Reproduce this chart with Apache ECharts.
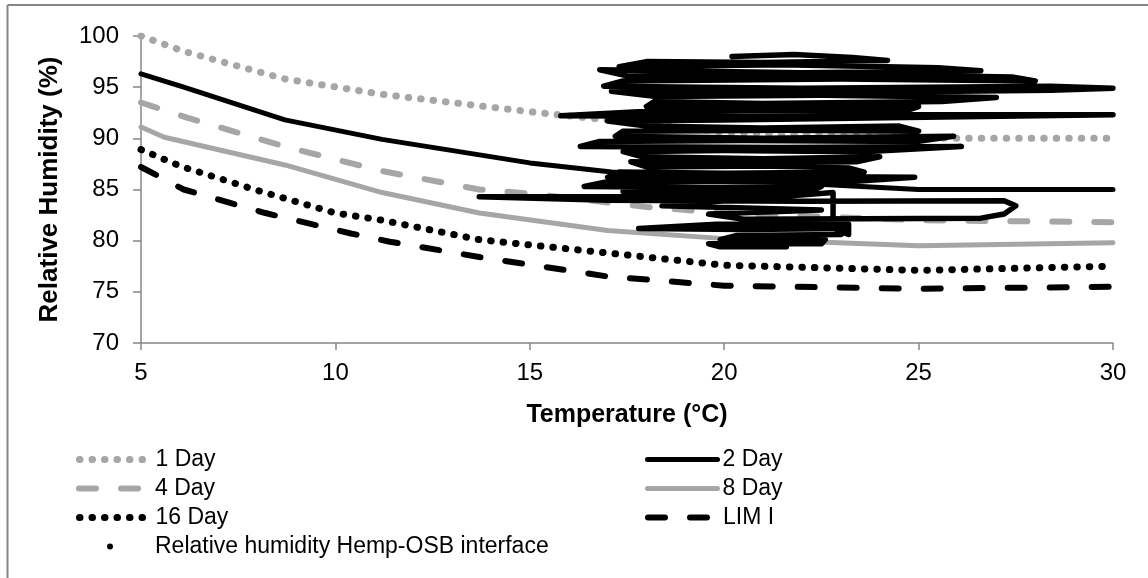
<!DOCTYPE html>
<html>
<head>
<meta charset="utf-8">
<script src="https://cdn.jsdelivr.net/npm/echarts@6/dist/echarts.min.js"></script>
<style>
  html, body { margin: 0; padding: 0; background: #fff; }
  #chart { width: 1148px; height: 578px; }
</style>
</head>
<body>
<div id="chart"></div>
<script>
// isopleth curves
const t1Day = [5, 6.1, 8.7, 11.2, 15, 20, 25, 30];
const rh1Day = [100, 98.5, 95.8, 94.3, 92.6, 90.6, 90.0, 90.0];
const t2Day = [5, 6.1, 8.7, 11.2, 15, 17.1, 20, 25, 30];
const rh2Day = [96.3, 95.0, 91.8, 89.9, 87.6, 86.7, 86.0, 85.0, 85.0];
const t4Day = [5, 6.2, 8.7, 11.2, 13.7, 15, 18, 20, 25, 30];
const rh4Day = [93.5, 92.0, 89.2, 86.8, 85.0, 84.6, 83.3, 82.7, 82.0, 81.8];
const t8Day = [5, 5.6, 8.7, 11.2, 13.7, 17, 20, 25, 30];
const rh8Day = [91.1, 90.1, 87.4, 84.7, 82.7, 81.0, 80.2, 79.5, 79.8];
const t16Day = [5, 6, 8, 10, 11.2, 13.7, 17, 20, 25, 30];
const rh16Day = [88.9, 87.3, 84.9, 82.7, 82.0, 80.1, 78.8, 77.6, 77.1, 77.5];
const tLim = [5, 6.1, 8.2, 10.4, 11.4, 13.7, 17, 20, 25, 30];
const rhLim = [87.2, 85.0, 82.7, 80.7, 79.9, 78.4, 76.5, 75.6, 75.3, 75.5];

// measured trace at the hemp-OSB interface (waypoints read from the scribble, in drawing order)
const traceT = [
  20.2, 21.8, 23.3, 24.2, 21.0, 18.0, 17.3, 21.5, 25.5, 26.6, 22.0, 16.8, 17.5, 22.5,
  27.4, 28.0, 23.0, 17.4, 16.9, 22.0, 28.4, 30.0, 28.4, 23.5, 17.1, 18.2, 22.5, 27.0,
  25.6, 21.0, 18.2, 18.0, 21.5, 25.0, 24.6, 20.5, 17.8, 15.8, 22.0, 24.5, 30.0, 24.2,
  20.0, 17.0, 18.0, 21.0, 24.5, 25.0, 21.5, 17.4, 17.2, 21.0, 25.9, 25.0, 20.5, 16.8,
  16.3, 21.5, 26.1, 23.6, 20.0, 17.4, 17.9, 21.0, 24.0, 23.4, 20.5, 17.6, 18.0, 21.0,
  23.2, 23.6, 20.0, 17.3, 17.0, 21.0, 24.9, 23.0, 20.0, 16.9, 16.4, 19.5, 22.5, 22.2,
  19.0, 17.4, 21.5, 17.0, 13.7, 17.0, 22.0, 27.2, 27.5, 27.2, 26.6, 20.5, 19.6, 22.5,
  18.4, 22.8, 22.8, 22.9, 23.2, 23.2, 19.8, 17.8, 20.5, 23.2, 23.0, 20.3, 19.9, 22.6,
  22.5, 19.6, 19.9, 21.6];
const traceRH = [
  98.0, 98.2, 97.9, 97.6, 97.4, 97.5, 97.0, 97.2, 96.9, 96.6, 96.4, 96.7, 96.1, 96.3,
  96.0, 95.6, 95.8, 95.6, 95.1, 94.9, 95.1, 94.9, 94.7, 94.5, 94.6, 94.1, 94.2, 94.0,
  93.6, 93.4, 93.6, 93.1, 92.9, 93.1, 92.6, 92.7, 92.6, 92.2, 92.1, 92.3, 92.3, 92.0,
  91.8, 91.7, 91.2, 91.0, 91.2, 90.7, 90.8, 90.7, 90.2, 90.0, 90.2, 89.7, 89.8, 89.7,
  89.2, 89.1, 89.2, 88.7, 88.8, 88.7, 88.2, 88.0, 88.2, 87.7, 87.6, 87.7, 87.2, 87.3,
  87.1, 86.7, 86.6, 86.7, 86.2, 86.3, 86.2, 85.7, 85.8, 85.7, 85.3, 85.2, 85.3, 84.8,
  84.9, 84.8, 84.4, 84.3, 84.3, 83.95, 83.85, 83.9, 83.4, 82.6, 82.2, 82.1, 82.6, 83.0,
  83.4, 84.7, 82.0, 81.0, 80.6, 81.6, 81.6, 81.2, 81.1, 81.2, 80.6, 80.5, 80.1, 80.1,
  79.7, 79.7, 79.4, 79.4];

const xTicks = [5, 10, 15, 20, 25, 30];
const yTicks = [70, 75, 80, 85, 90, 95, 100];

const FONT = "'Liberation Sans', Arial, sans-serif";
const GRAY = '#a6a6a6';
const AXIS = '#868686';

const DOTS = [0.5, 12];
const DASH = [17, 25];

function pairs(xs, ys) {
  return xs.map((x, i) => [x, ys[i]]);
}

function styleOf(color, type) {
  const w = type === 'solid' ? 5 : (type === DOTS ? 7 : 6);
  return { color: color, width: w, type: type, cap: 'round', join: 'round' };
}

function curve(name, xs, ys, color, type) {
  return {
    name: name,
    type: 'line',
    data: pairs(xs, ys),
    symbol: 'none',
    silent: true,
    color: color,
    lineStyle: styleOf(color, type)
  };
}

function legendAt(name, left, top, width, pad, color, type) {
  return {
    data: [name],
    left: left,
    top: top,
    padding: 0,
    itemWidth: width,
    itemHeight: 14,
    selectedMode: false,
    itemStyle: { opacity: 0 },
    lineStyle: styleOf(color, type),
    textStyle: { fontFamily: FONT, fontSize: 23, color: '#000', padding: [0, 0, 0, pad] }
  };
}

const chart = echarts.init(document.getElementById('chart'));
chart.setOption({
  animation: false,
  backgroundColor: '#fff',
  grid: { left: 141, right: 35, top: 36, bottom: 235, containLabel: false, outerBoundsMode: 'none' },
  graphic: [
    { type: 'line', shape: { x1: 7.5, y1: 5, x2: 1148, y2: 5 }, style: { stroke: AXIS, lineWidth: 2 } },
    { type: 'line', shape: { x1: 7.5, y1: 5, x2: 7.5, y2: 578 }, style: { stroke: AXIS, lineWidth: 2 } }
  ],
  legend: [
    legendAt('1 Day', 76, 448, 68, 3, GRAY, DOTS),
    legendAt('4 Day', 76, 477, 68, 3, GRAY, DASH),
    legendAt('16 Day', 76, 506, 68, 3, '#000', DOTS),
    legendAt('2 Day', 645, 448, 70, 0, '#000', 'solid'),
    legendAt('8 Day', 645, 477, 70, 0, GRAY, 'solid'),
    legendAt('LIM I', 645, 506, 70, 0, '#000', DASH),
    {
      data: [{ name: 'Relative humidity Hemp-OSB interface', icon: 'circle' }],
      left: 107,
      top: 535,
      padding: 0,
      itemWidth: 6,
      itemHeight: 6,
      selectedMode: false,
      textStyle: { fontFamily: FONT, fontSize: 23, color: '#000', padding: [0, 0, 0, 37] }
    }
  ],
  xAxis: {
    type: 'value',
    min: xTicks[0],
    max: xTicks[xTicks.length - 1],
    interval: 5,
    name: 'Temperature (°C)',
    nameLocation: 'middle',
    nameGap: 60,
    nameTextStyle: { fontFamily: FONT, fontSize: 25, fontWeight: 'bold', color: '#000' },
    axisLine: { onZero: false, lineStyle: { color: AXIS, width: 1.5 } },
    axisTick: { show: true, inside: false, length: 7, lineStyle: { color: AXIS, width: 1.5 } },
    axisLabel: { fontFamily: FONT, fontSize: 24, color: '#000', margin: 18 },
    splitLine: { show: false }
  },
  yAxis: {
    type: 'value',
    min: yTicks[0],
    max: yTicks[yTicks.length - 1],
    interval: 5,
    name: 'Relative Humidity (%)',
    nameLocation: 'middle',
    nameGap: 78,
    nameTextStyle: { fontFamily: FONT, fontSize: 26, fontWeight: 'bold', color: '#000' },
    axisLine: { show: true, onZero: false, lineStyle: { color: AXIS, width: 1.5 } },
    axisTick: { show: true, inside: false, length: 8, lineStyle: { color: AXIS, width: 1.5 } },
    axisLabel: { fontFamily: FONT, fontSize: 24, color: '#000', margin: 22 },
    splitLine: { show: false }
  },
  series: [
    curve('1 Day', t1Day, rh1Day, GRAY, DOTS),
    curve('2 Day', t2Day, rh2Day, '#000', 'solid'),
    curve('4 Day', t4Day, rh4Day, GRAY, DASH),
    curve('8 Day', t8Day, rh8Day, GRAY, 'solid'),
    curve('16 Day', t16Day, rh16Day, '#000', DOTS),
    curve('LIM I', tLim, rhLim, '#000', DASH),
    {
      name: 'Relative humidity Hemp-OSB interface',
      type: 'line',
      data: pairs(traceT, traceRH),
      symbol: 'none',
      silent: true,
      color: '#000',
      lineStyle: { color: '#000', width: 5.5, join: 'round', cap: 'round' },
      z: 3
    }
  ]
});
</script>
</body>
</html>
